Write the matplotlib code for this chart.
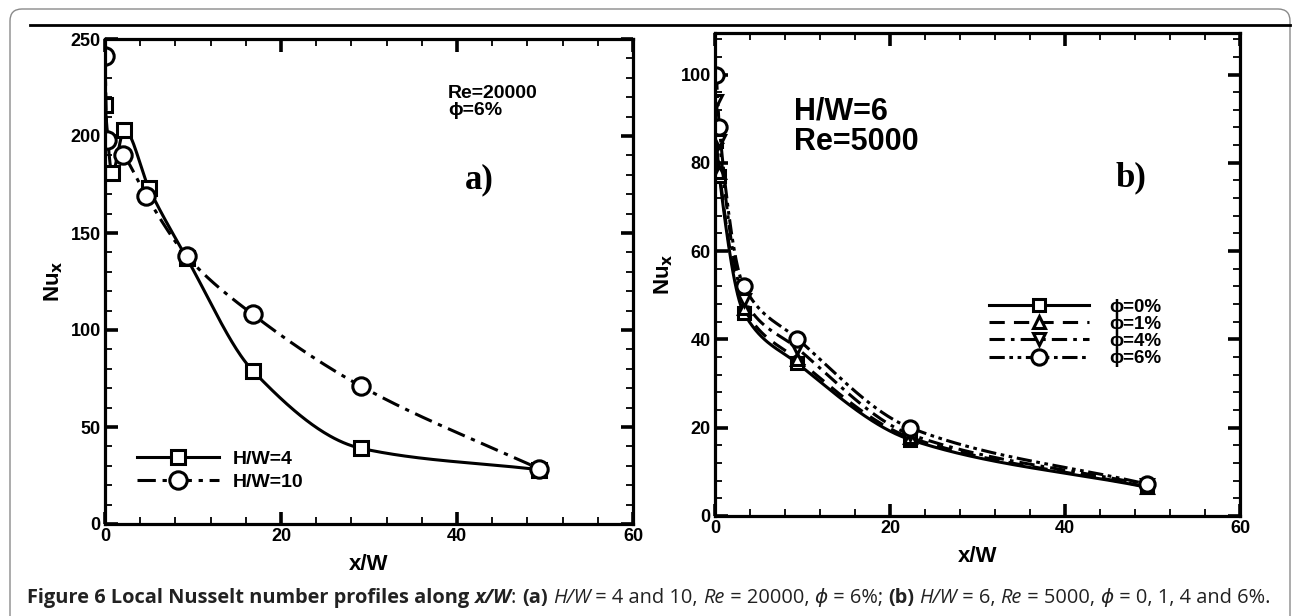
import matplotlib
matplotlib.use("Agg")
import matplotlib.pyplot as plt
import numpy as np
from matplotlib.patches import FancyBboxPatch
from matplotlib.lines import Line2D

# 데이터: (a) Re=20000, phi=6%
xa_hw4 = [0.0, 0.8, 2.2, 5.0, 9.3, 16.8, 29.1, 49.3]
nu_hw4 = [216, 181, 203, 173, 137, 79, 39, 28]
xa_hw10 = [0.0, 0.25, 2.1, 4.7, 9.3, 16.8, 29.1, 49.3]
nu_hw10 = [241, 198, 190, 169, 138, 108, 71, 28.5]

# 데이터: (b) H/W=6, Re=5000
xb = [0.15, 0.5, 3.3, 9.4, 22.3, 49.4]
nu_phi0 = [85, 77, 46, 34.6, 17.3, 6.5]
nu_phi1 = [86, 78, 47, 35.5, 17.8, 6.6]
nu_phi4 = [94, 85, 49, 38.0, 18.5, 7.0]
nu_phi6 = [100, 88, 52, 40.2, 20.0, 7.2]

FONT = ["Liberation Sans", "DejaVu Sans"]
plt.rcParams["font.family"] = FONT
plt.rcParams["font.weight"] = "bold"

LW = 2.2


def smooth(x, y, n=300):
    # Tecplot 스타일의 매끄러운 곡선 (monotone cubic, 그리기용)
    x = np.asarray(x, float)
    y = np.asarray(y, float)
    h = np.diff(x)
    d = np.diff(y) / h
    m = np.zeros_like(y)
    m[0], m[-1] = d[0], d[-1]
    for k in range(1, len(x) - 1):
        if d[k - 1] * d[k] > 0:
            w1 = 2 * h[k] + h[k - 1]
            w2 = h[k] + 2 * h[k - 1]
            m[k] = (w1 + w2) / (w1 / d[k - 1] + w2 / d[k])
    xs, ys = [], []
    for k in range(len(x) - 1):
        t = np.linspace(0, 1, max(int(n * h[k] / (x[-1] - x[0])), 8))
        h00 = 2 * t**3 - 3 * t**2 + 1
        h10 = t**3 - 2 * t**2 + t
        h01 = -2 * t**3 + 3 * t**2
        h11 = t**3 - t**2
        xs.append(x[k] + t * h[k])
        ys.append(h00 * y[k] + h10 * h[k] * m[k] + h01 * y[k + 1] + h11 * h[k] * m[k + 1])
    return np.concatenate(xs), np.concatenate(ys)


def plot_series(ax, x, y, ls, marker, ms, label):
    sx, sy = smooth(x, y)
    ax.plot(sx, sy, color="black", ls=ls, lw=LW)
    ax.plot(x, y, ls="none", marker=marker, ms=ms, mfc="white", mec="black", mew=2.2)
    return Line2D([], [], color="black", ls=ls, lw=LW, marker=marker, ms=ms,
                  mfc="white", mec="black", mew=2.2, label=label)


def style_axes(ax, ymax, ymajor, yminor):
    ax.set_xlim(0, 60)
    ax.set_ylim(0, ymax)
    ax.set_xticks(np.arange(0, 61, 20))
    ax.set_xticks(np.arange(0, 61, 4), minor=True)
    ax.set_yticks(np.arange(0, ymax + 0.1, ymajor))
    ax.set_yticks(np.arange(0, ymax + 0.1, yminor), minor=True)
    for s in ax.spines.values():
        s.set_linewidth(2.3)
    ax.tick_params(which="both", direction="in", top=True, right=True)
    ax.tick_params(which="major", length=9, width=2.6, labelsize=13, pad=3)
    ax.tick_params(which="minor", length=5, width=1.3)
    for lab in ax.get_xticklabels() + ax.get_yticklabels():
        lab.set_fontweight("bold")
    ax.set_xlabel("x/W", fontsize=16, fontweight="bold", labelpad=6)
    ax.set_ylabel("Nu$_\\mathbf{x}$", fontsize=16, fontweight="bold", labelpad=4)


fig = plt.figure(figsize=(12.95, 6.16), dpi=100)

# 바깥 테두리와 위쪽 굵은 선
frame = FancyBboxPatch((0.10, -0.3), 12.80, 6.07 + 0.3,
                       boxstyle="round,pad=0,rounding_size=0.12",
                       transform=fig.dpi_scale_trans, fill=False, ec="#8a8a8a", lw=1.0)
fig.add_artist(frame)
fig.add_artist(Line2D([30 / 1295, 1290 / 1295], [1 - 25 / 616, 1 - 25 / 616],
                      transform=fig.transFigure, color="black", lw=2.0))

# (a)
ax1 = fig.add_axes([105 / 1295, 1 - 524 / 616, 528 / 1295, 485 / 616])
h1 = plot_series(ax1, xa_hw4, nu_hw4, "-", "s", 9.5, "H/W=4")
h2 = plot_series(ax1, xa_hw10, nu_hw10, (0, (6, 2.2, 1.4, 2.2)), "o", 12.5, "H/W=10")
style_axes(ax1, 250, 50, 10)
ax1.legend(handles=[h1, h2], loc="lower left", bbox_to_anchor=(0.028, 0.032),
           frameon=False, handlelength=4.2, handletextpad=0.7, labelspacing=0.3,
           prop={"weight": "bold", "size": 14})
ax1.text(0.650, 0.905, "Re=20000\nϕ=6%", transform=ax1.transAxes, fontsize=14,
         fontweight="bold", va="top", ha="left", linespacing=1.0)
ax1.text(0.708, 0.71, "a)", transform=ax1.transAxes, fontsize=25, fontweight="bold",
         family=["Liberation Serif", "DejaVu Serif"], ha="center", va="center")

# (b)
ax2 = fig.add_axes([715 / 1295, 1 - 516 / 616, 525 / 1295, 483 / 616])
g1 = plot_series(ax2, xb, nu_phi0, "-", "s", 8, "ϕ=0%")
g2 = plot_series(ax2, xb, nu_phi1, (0, (5, 3)), "^", 9, "ϕ=1%")
g3 = plot_series(ax2, xb, nu_phi4, (0, (5, 2, 1.2, 2)), "v", 9, "ϕ=4%")
g4 = plot_series(ax2, xb, nu_phi6, (0, (5, 1.5, 1.2, 1.5, 1.2, 1.5)), "o", 11, "ϕ=6%")
style_axes(ax2, 109.4, 20, 4)
ax2.legend(handles=[g1, g2, g3, g4], loc="upper left", bbox_to_anchor=(0.49, 0.485),
           frameon=False, handlelength=5.3, handletextpad=1.1, labelspacing=0.0,
           prop={"weight": "bold", "size": 13.5})
ax2.text(0.150, 0.868, "H/W=6\nRe=5000", transform=ax2.transAxes, fontsize=22,
         fontweight="bold", va="top", ha="left", linespacing=1.0)
ax2.text(0.792, 0.70, "b)", transform=ax2.transAxes, fontsize=25, fontweight="bold",
         family=["Liberation Serif", "DejaVu Serif"], ha="center", va="center")

# 캡션: 굵게/기울임/보통 조각들을 이어 붙임
caption = [
    ("Figure 6 Local Nusselt number profiles along ", "bold", "normal"),
    ("x/W", "bold", "italic"),
    (": ", "normal", "normal"),
    ("(a)", "bold", "normal"),
    (" ", "normal", "normal"),
    ("H/W", "normal", "italic"),
    (" = 4 and 10, ", "normal", "normal"),
    ("Re", "normal", "italic"),
    (" = 20000, ", "normal", "normal"),
    ("ϕ", "normal", "italic"),
    (" = 6%; ", "normal", "normal"),
    ("(b)", "bold", "normal"),
    (" ", "normal", "normal"),
    ("H/W", "normal", "italic"),
    (" = 6, ", "normal", "normal"),
    ("Re", "normal", "italic"),
    (" = 5000, ", "normal", "normal"),
    ("ϕ", "normal", "italic"),
    (" = 0, 1, 4 and 6%.", "normal", "normal"),
]
renderer = fig.canvas.get_renderer()
xpos = 27
ycap = 1 - 598 / 616
for txt, wt, st in caption:
    t = fig.text(xpos / 1295, ycap, txt, fontsize=14.4, fontweight=wt, fontstyle=st,
                 family=["Open Sans", "DejaVu Sans"], color="#222222",
                 ha="left", va="center")
    w = t.get_window_extent(renderer).width
    xpos += w

fig.savefig("out.png", dpi=100)
